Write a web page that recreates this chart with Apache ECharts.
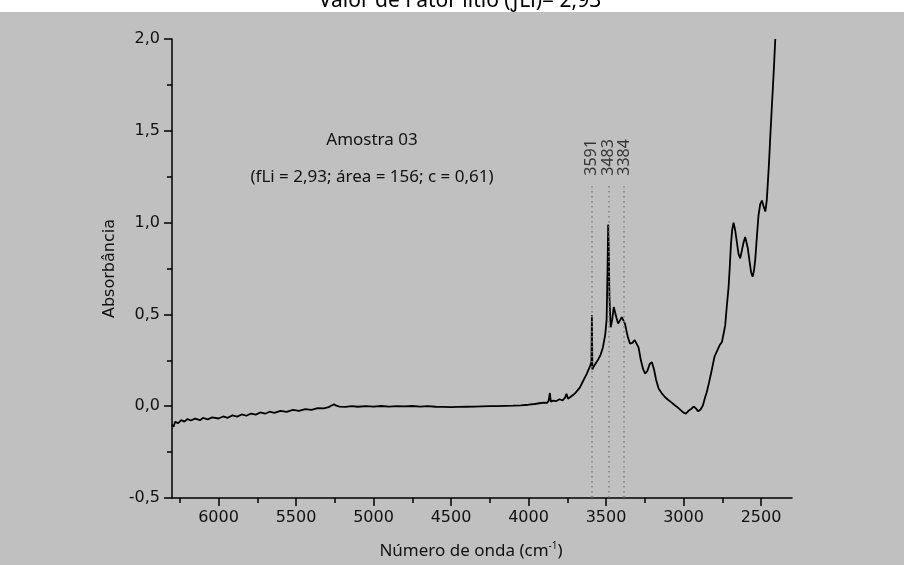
<!DOCTYPE html>
<html>
<head>
<meta charset="utf-8">
<script src="https://cdn.jsdelivr.net/npm/echarts@6/dist/echarts.min.js"></script>
<style>
html,body{margin:0;padding:0;background:#fff}
#chart{width:904px;height:565px}
</style>
</head>
<body>
<div id="chart"></div>
<script>
// espectro FTIR - Amostra 03
var waveNumber = [6300,6290,6280,6260,6240,6220,6200,6180,6150,6120,6100,6070,6040,6000,5970,5940,5910,5880,5850,5820,5790,5760,5730,5700,5670,5640,5600,5560,5520,5480,5440,5400,5360,5320,5290,5270,5255,5240,5220,5180,5140,5100,5050,5000,4950,4900,4850,4800,4750,4700,4650,4600,4550,4500,4450,4400,4350,4300,4250,4200,4150,4100,4050,4000,3960,3930,3900,3880,3870,3862,3856,3840,3820,3800,3780,3765,3755,3745,3730,3715,3700,3685,3670,3655,3640,3625,3612,3600,3594,3591,3588,3580,3565,3550,3535,3520,3505,3496,3490,3486,3482,3478,3470,3460,3450,3442,3432,3422,3410,3398,3390,3378,3360,3345,3330,3315,3303,3290,3275,3260,3247,3232,3218,3204,3190,3177,3160,3140,3120,3100,3080,3060,3040,3020,3000,2985,2968,2950,2935,2920,2905,2890,2875,2860,2850,2835,2817,2800,2784,2768,2752,2740,2731,2720,2709,2700,2694,2686,2677,2667,2655,2645,2634,2623,2613,2602,2595,2585,2574,2564,2554,2545,2537,2526,2516,2505,2494,2484,2472,2463,2457,2448,2440,2432,2423,2415,2408];
var absorbance = [-0.1,-0.112,-0.085,-0.092,-0.076,-0.084,-0.07,-0.078,-0.068,-0.076,-0.064,-0.072,-0.061,-0.067,-0.056,-0.063,-0.05,-0.057,-0.045,-0.052,-0.04,-0.046,-0.034,-0.041,-0.03,-0.036,-0.026,-0.031,-0.02,-0.025,-0.016,-0.02,-0.011,-0.012,-0.005,0.004,0.01,0.003,-0.002,-0.004,0.0,-0.003,0.0,-0.002,0.001,-0.002,0.0,-0.001,0.001,-0.002,0.0,-0.003,-0.004,-0.005,-0.004,-0.003,-0.002,-0.001,0.0,0.0,0.002,0.003,0.005,0.008,0.012,0.016,0.02,0.018,0.03,0.072,0.025,0.03,0.028,0.038,0.032,0.045,0.068,0.04,0.05,0.06,0.07,0.085,0.1,0.125,0.15,0.175,0.2,0.225,0.24,0.495,0.2,0.215,0.235,0.255,0.28,0.32,0.39,0.47,0.75,0.99,0.85,0.6,0.43,0.47,0.54,0.53,0.48,0.45,0.46,0.485,0.49,0.45,0.38,0.34,0.345,0.36,0.36,0.32,0.25,0.2,0.177,0.195,0.23,0.24,0.2,0.144,0.095,0.07,0.05,0.035,0.022,0.008,-0.005,-0.02,-0.035,-0.04,-0.025,-0.015,-0.002,-0.012,-0.028,-0.018,0.004,0.05,0.076,0.13,0.2,0.27,0.3,0.33,0.35,0.4,0.44,0.55,0.65,0.78,0.88,0.96,1.0,0.96,0.89,0.83,0.805,0.85,0.89,0.922,0.92,0.86,0.79,0.73,0.705,0.74,0.8,0.93,1.04,1.1,1.12,1.09,1.06,1.12,1.2,1.33,1.47,1.6,1.74,1.87,2.0];

var peakPositions = [3591, 3483, 3384];
var xMajorTicks = [6000, 5500, 5000, 4500, 4000, 3500, 3000, 2500];
var xMinorTicks = [6250, 5750, 5250, 4750, 4250, 3750, 3250, 2750];

var spectrum = waveNumber.map(function (w, i) { return [w, absorbance[i]]; });

var chart = echarts.init(document.getElementById('chart'));

var peakLines = peakPositions.map(function (p) {
	return [{ coord: [p, 1.2] }, { coord: [p, -0.5] }];
});
var peakLabels = peakPositions.map(function (p) { return [p, 1.355]; });

var option = {
	backgroundColor: '#ffffff',
	animation: false,
	graphic: [
		{
			type: 'text', x: 460, y: 1, z: -2,
			style: {
				text: 'Valor de Fator lítio (ƒLi)= 2,93',
				fontFamily: 'Noto Sans', fontSize: 21, fill: '#000',
				align: 'center', verticalAlign: 'middle'
			}
		},
		{
			type: 'rect', z: -1,
			shape: { x: 0, y: 12, width: 904, height: 553 },
			style: { fill: '#c0c0c0' }
		}
	],
	title: [
		{
			text: 'Amostra 03', left: 372, top: 132, textAlign: 'center',
			textStyle: { fontFamily: 'Noto Sans', fontSize: 17, fontWeight: 'normal', color: '#111' },
			padding: 0
		},
		{
			text: '(fLi = 2,93; área = 156; c = 0,61)', left: 372, top: 169, textAlign: 'center',
			textStyle: { fontFamily: 'Noto Sans', fontSize: 17, fontWeight: 'normal', color: '#111' },
			padding: 0
		}
	],
	grid: { left: 172, right: 112, top: 39, bottom: 67, containLabel: false },
	xAxis: [
		{
			type: 'value', min: 2300, max: 6300, inverse: true, z: 3,
			name: 'Número de onda (cm{sup|-1})',
			nameLocation: 'middle', nameGap: 43,
			nameTextStyle: {
				fontFamily: 'Noto Sans', fontSize: 17, color: '#111', padding: [0, 22, 0, 0],
				rich: { sup: { fontFamily: 'Noto Sans', fontSize: 10, color: '#111', padding: [0, 0, 10, 0] } }
			},
			axisLine: { onZero: false, lineStyle: { color: '#000', width: 1.5 } },
			axisTick: { customValues: xMajorTicks, length: 8, lineStyle: { color: '#000', width: 1.5 } },
			axisLabel: {
				customValues: xMajorTicks, margin: 12,
				fontFamily: 'DejaVu Sans', fontSize: 16, color: '#111',
				formatter: function (v) { return String(v); }
			},
			splitLine: { show: false }
		},
		{
			type: 'value', min: 2300, max: 6300, inverse: true, position: 'bottom', z: 3,
			axisLine: { show: false, onZero: false },
			axisTick: { customValues: xMinorTicks, length: 5, lineStyle: { color: '#000', width: 1.5 } },
			axisLabel: { show: false },
			splitLine: { show: false }
		}
	],
	yAxis: {
		type: 'value', min: -0.5, max: 2.0, interval: 0.5, z: 3,
		name: 'Absorbância', nameLocation: 'middle', nameGap: 52,
		nameTextStyle: { fontFamily: 'DejaVu Sans', fontSize: 16, color: '#111' },
		axisLine: { show: true, onZero: false, lineStyle: { color: '#000', width: 1.5 } },
		axisTick: { show: true, length: 8, lineStyle: { color: '#000', width: 1.5 } },
		minorTick: { show: true, splitNumber: 2, length: 5, lineStyle: { color: '#000', width: 1.5 } },
		axisLabel: {
			margin: 12, fontFamily: 'DejaVu Sans', fontSize: 16, color: '#111',
			formatter: function (v) { return v.toFixed(1).replace('.', ','); }
		},
		splitLine: { show: false }
	},
	series: [
		{
			type: 'line', xAxisIndex: 0, z: 4,
			data: spectrum,
			showSymbol: false,
			lineStyle: { color: '#000', width: 1.8 },
			markLine: {
				silent: true, symbol: 'none',
				label: { show: false },
				lineStyle: { type: [1.5, 3.5], color: '#808080', width: 1.5 },
				data: peakLines
			}
		},
		{
			type: 'scatter', xAxisIndex: 0, z: 4,
			data: peakLabels,
			symbolSize: 0,
			label: {
				show: true, position: 'inside', rotate: 90,
				fontFamily: 'Noto Sans', fontSize: 16, color: '#111',
				formatter: function (p) { return String(p.value[0]); }
			}
		}
	]
};

chart.setOption(option);
</script>
</body>
</html>
